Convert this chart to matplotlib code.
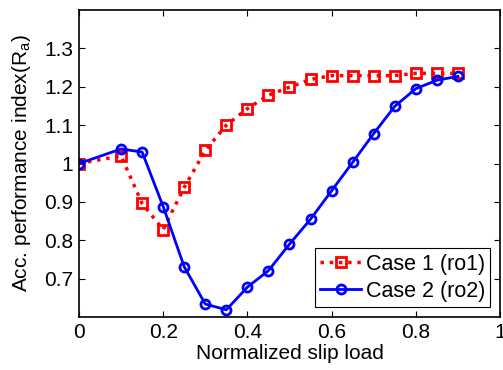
import matplotlib.pyplot as plt

plt.rcParams['font.family'] = ['Liberation Sans', 'DejaVu Sans']
plt.rcParams['mathtext.fontset'] = 'custom'
plt.rcParams['mathtext.rm'] = 'Liberation Sans'

# slip load values (same for both cases)
x1 = [0, 0.1, 0.15, 0.2, 0.25, 0.3, 0.35, 0.4, 0.45, 0.5, 0.55, 0.6, 0.65, 0.7, 0.75, 0.8, 0.85, 0.9]
case1 = [1.0, 1.02, 0.896, 0.828, 0.938, 1.034, 1.10, 1.143, 1.178, 1.199, 1.219, 1.229, 1.229, 1.229, 1.229, 1.235, 1.235, 1.235]
x2 = [0, 0.1, 0.15, 0.2, 0.25, 0.3, 0.35, 0.4, 0.45, 0.5, 0.55, 0.6, 0.65, 0.7, 0.75, 0.8, 0.85, 0.9]
case2 = [1.0, 1.038, 1.03, 0.888, 0.731, 0.634, 0.619, 0.678, 0.721, 0.79, 0.855, 0.929, 1.003, 1.078, 1.149, 1.195, 1.217, 1.227]

xticks = [0, 0.2, 0.4, 0.6, 0.8, 1]
yticks = [0.7, 0.8, 0.9, 1.0, 1.1, 1.2, 1.3]

fig = plt.figure(figsize=(5.03, 3.70), dpi=100)
ax = fig.add_axes([0.157, 0.143, 0.837, 0.83])

ax.plot(x1, case1, color="red", ls=":", lw=2.5, marker="s", ms=6.5,
        mfc="none", mew=2, label="Case 1 (ro1)")
ax.plot(x2, case2, color="blue", ls="-", lw=2, marker="o", ms=6.5,
        mfc="none", mew=2, label="Case 2 (ro2)")

ax.set_xlim(0, 1)
ax.set_ylim(0.6, 1.4)
ax.set_xticks(xticks)
ax.set_xticklabels(["0", "0.2", "0.4", "0.6", "0.8", "1"])
ax.set_yticks(yticks)
ax.set_yticklabels(["0.7", "0.8", "0.9", "1", "1.1", "1.2", "1.3"])
ax.tick_params(direction="in", top=True, right=True, labelsize=15, length=4, width=0.8, pad=4)
for s in ax.spines.values():
    s.set_linewidth(1.2)

ax.set_xlabel("Normalized slip load", fontsize=15, labelpad=2)
ax.set_ylabel("Acc. performance index(R$_\\mathregular{a}$)", fontsize=15, labelpad=8)

leg = ax.legend(loc="lower right", fontsize=15.5, fancybox=False, framealpha=1,
                edgecolor="black", borderaxespad=0.45, handlelength=1.9,
                borderpad=0.25, labelspacing=0.3, handletextpad=0.2)
leg.get_frame().set_linewidth(0.8)

fig.savefig("out.png", dpi=100)
